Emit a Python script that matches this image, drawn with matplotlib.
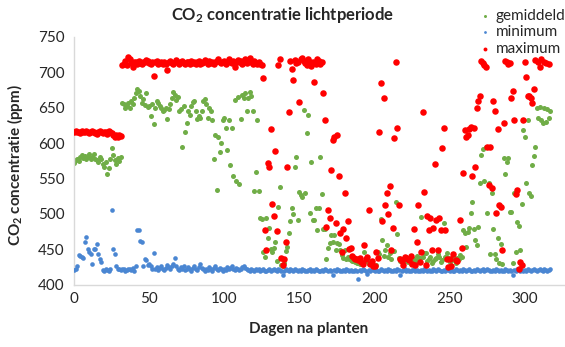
import numpy as np
import matplotlib
matplotlib.use("Agg")
import matplotlib.pyplot as plt

nan = np.nan

# CO2 per dag (ppm), dag 0 t/m 317
dagen = list(range(318))

maximum = [
    616, 617, 615, 616, 614, 617, 616, 615, 617, 616,
    614, 615, 617, 616, 614, 613, 616, 617, 615, 614,
    616, 615, 613, 617, 615, 614, 612, 609, 611, 608,
    612, 610, 710, 712, 716, 710, 721, 718, 713, 708,
    715, 714, 712, 716, 713, 711, 715, 714, 717, 716,
    713, 712, 715, 694, 714, 716, 712, 713, 715, 711,
    714, 712, 703, 715, 716, 713, 711, 714, 717, 715,
    712, 714, 716, 713, 711, 715, 714, 712, 716, 713,
    715, 711, 714, 716, 712, 713, 715, 717, 714, 712,
    716, 713, 715, 712, 714, 716, 718, 715, 713, 714,
    716, 712, 715, 718, 714, 713, 716, 707, 715, 717,
    714, 716, 712, 715, 718, 713, 716, 720, 714, 712,
    716, 713, 711, 715, 712, 710, 692, 477, 449, 572,
    567, 620, 514, 497, 589, 476, 710, 719, 438, 428,
    436, 460, 566, 644, 716, 705, 689, 717, 713, 715,
    658, 718, 720, 716, 713, 710, 718, 715, 709, 714,
    686, 711, 719, 716, 712, 714, 670, 633, 482, 506,
    495, 562, 605, 608, 487, 612, 554, 473, 447, 479,
    529, 466, 490, 450, 452, 441, 438, 436, 437, 435,
    438, 432, 430, 456, 436, 440, 506, 430, 433, 427,
    427, 447, 438, 615, 685, 490, 663, 513, 529, 500,
    539, 449, 480, 607, 714, 622, 513, 436, 433, 428,
    440, 438, 437, 435, 441, 430, 479, 428, 460, 512,
    432, 446, 644, 531, 428, 497, 478, 495, 449, 480,
    571, 492, 449, 494, 477, 593, 621, 478, 436, 425,
    436, 427, 443, nan, 435, 434, nan, 492, 452, 558,
    618, 608, 612, 620, 623, 553, 621, 566, 649, 659,
    667, 716, 713, 710, 708, 595, 541, 594, 536, 660,
    645, 502, 620, 513, 510, 449, 629, 716, 714, 711,
    713, 663, 673, 633, 528, 534, 423, 432, 428, 633,
    715, 693, 666, 666, 663, 656, 676, 717, nan, 715,
    708, 718, nan, 715, 713, nan, 711, nan,
]

gemiddeld = [
    572, 576, 578, 575, 580, 583, 579, 582, 578, 581,
    584, 577, 580, 585, 578, 576, 573, 580, 577, 570,
    566, 574, 557, 565, 578, 593, 583, 576, 571, 579,
    575, 580, 657, 655, 650, 652, 657, 649, 660, 655,
    663, 670, 677, 673, 667, 656, 662, 654, 671, 651,
    653, 638, 655, 627, 650, 660, 656, 652, 649, 646,
    647, 650, 634, 648, 655, 663, 672, 668, 661, 665,
    646, 648, 594, 652, 615, 629, 646, 640, 652, 658,
    660, 645, 634, 638, 636, 645, 660, 662, 655, 636,
    650, 645, 633, 577, 611, 534, 608, 588, 600, 633,
    636, 622, 590, 632, 569, 622, 554, 661, 546, 665,
    542, 634, 668, 664, 670, 646, 663, 672, 667, 646,
    532, 559, 632, 532, 494, 493, 446, 439, 494, 466,
    480, 450, 446, 452, 461, 434, 510, 538, 428, 426,
    431, 448, 453, 473, 490, 509, 500, 567, 581, 492,
    531, 527, 524, 647, 529, 614, 640, 501, 573, 492,
    491, 509, 478, 508, 580, 528, 479, 479, 436, 452,
    459, 470, 461, 471, 449, 459, 457, 449, 442, 438,
    449, 436, 440, 437, 435, 433, 434, 432, 431, 431,
    430, 432, 431, 446, 434, 433, 430, 432, 429, 428,
    425, 428, 446, 444, 493, 463, 441, 449, 456, 440,
    445, 436, 448, 448, 517, 472, 438, 433, 436, 431,
    434, 438, 432, 436, 430, 434, 437, 432, 441, 435,
    438, 496, 440, 445, 445, 433, 437, 440, 431, 434,
    436, 438, 444, 440, 432, 435, 488, 440, 445, 438,
    432, 437, 440, 435, 431, 438, 436, 442, 440, 478,
    473, 454, 475, 480, 501, 517, 479, 464, 456, 482,
    544, 583, 592, 546, 594, 501, 544, 444, 529, 479,
    444, 437, 466, 431, 457, 430, 579, 557, 574, 579,
    503, 503, 431, 529, 447, 489, 483, 449, 514, 619,
    609, 544, 633, 530, 526, 569, 582, 595, 649, 635,
    651, 632, 628, 650, 630, 648, 635, 646,
]

minimum = [
    421, 423, 426, 442, 441, 440, 438, 460, 467, 451,
    447, 444, 430, 451, 450, 457, 444, 437, 432, 421,
    420, 422, 421, 420, 422, 506, 451, 444, 427, 423,
    422, 421, 423, 422, 420, 421, 423, 422, 421, 424,
    420, 426, 477, 478, 462, 460, 426, 437, 435, 428,
    430, 426, 423, 445, 423, 425, 421, 424, 426, 422,
    421, 424, 428, 425, 422, 426, 430, 438, 427, 423,
    421, 425, 423, 426, 421, 423, 425, 422, 420, 424,
    426, 423, 421, 425, 429, 424, 422, 420, 423, 421,
    425, 422, 420, 424, 426, 423, 421, 424, 422, 420,
    423, 421, 425, 422, 424, 426, 423, 421, 424, 422,
    421, 423, 425, 427, 424, 422, 421, 420, 422, 421,
    420, 422, 421, 423, 420, 421, 422, 420, 419, 421,
    422, 420, 421, 423, 421, 420, 422, 421, 420, 414,
    420, 422, 421, 420, 423, 421, 420, 422, 421, 420,
    421, 420, 422, 421, 419, 420, 421, 422, 420, 421,
    420, 422, 421, 420, 419, 421, 420, 422, 421, 420,
    421, 420, 414, 421, 420, 422, 421, 420, 419, 421,
    420, 422, 421, 420, 421, 419, 420, 421, 420, 408,
    421, 420, 422, 421, 420, 416, 421, 420, 422, 421,
    420, 421, 419, 420, 422, 421, 420, 421, 420, 422,
    421, 420, 419, 421, 420, 422, 421, 414, 420, 421,
    422, 420, 421, 419, 420, 421, 422, 420, 421, 420,
    419, 421, 420, 422, 421, 420, 421, 419, 420, 422,
    421, 420, 422, 421, 420, 419, 421, 420, 422, 421,
    420, 421, 419, 420, 422, 421, 420, 421, 420, 422,
    421, 420, 421, 422, 420, 419, 421, 420, 422, 421,
    420, 421, 422, 420, 421, 423, 421, 420, 419, 421,
    420, 422, 421, 420, 421, 419, 420, 422, 421, 420,
    421, 420, 414, 421, 420, 422, 421, 420, 421, 420,
    421, 420, 422, 421, 420, 421, 422, 421, 420, 421,
    422, 421, 420, 422, 421, 420, 421, 422,
]

y_ticks = [400, 450, 500, 550, 600, 650, 700, 750]
x_ticks = [0, 50, 100, 150, 200, 250, 300]

plt.rcParams["font.family"] = ["Lato", "DejaVu Sans"]
plt.rcParams["mathtext.fontset"] = "custom"
plt.rcParams["mathtext.rm"] = "Lato"
plt.rcParams["mathtext.bf"] = "Lato:bold"
plt.rcParams["mathtext.default"] = "bf"

fig = plt.figure(figsize=(5.65, 3.47), dpi=100)
ax = fig.add_axes([0.131, 0.179, 0.869, 0.715])

ax.scatter(dagen, gemiddeld, s=13, color="#70AD47", linewidths=0, label="gemiddeld", zorder=2)
ax.scatter(dagen, minimum, s=11, color="#4A86D2", linewidths=0, label="minimum", zorder=3)
ax.scatter(dagen, maximum, s=22, color="#FF0000", linewidths=0, label="maximum", zorder=4)

ax.set_xlim(0, 326.7)
ax.set_ylim(400, 750)
ax.set_xticks(x_ticks)
ax.set_yticks(y_ticks)
ax.tick_params(length=0, labelsize=11, colors="#262626")
ax.tick_params(axis="y", pad=7)
ax.tick_params(axis="x", pad=5)

for side in ["top", "right"]:
    ax.spines[side].set_visible(False)
for side in ["left", "bottom"]:
    ax.spines[side].set_color("#d9d9d9")
    ax.spines[side].set_linewidth(1.0)

ax.set_xlabel("Dagen na planten", fontsize=11, fontweight="bold", color="#262626")
ax.xaxis.set_label_coords(0.477, -0.15)
ax.set_ylabel("CO$_2$ concentratie (ppm)", fontsize=11, fontweight="bold", color="#262626")
ax.yaxis.set_label_coords(-0.1, 0.484)

fig.text(0.5, 0.957, "CO$_2$ concentratie lichtperiode", ha="center", va="center",
         fontsize=12, fontweight="bold", color="#262626")

leg = fig.legend(loc="upper left", bbox_to_anchor=(0.829, 1.0), frameon=False,
                 fontsize=11, markerscale=0.6, handletextpad=0.2,
                 labelspacing=0.15, borderpad=0.1, handlelength=1.0)
for t in leg.get_texts():
    t.set_color("#262626")

fig.savefig("out.png", dpi=100)
